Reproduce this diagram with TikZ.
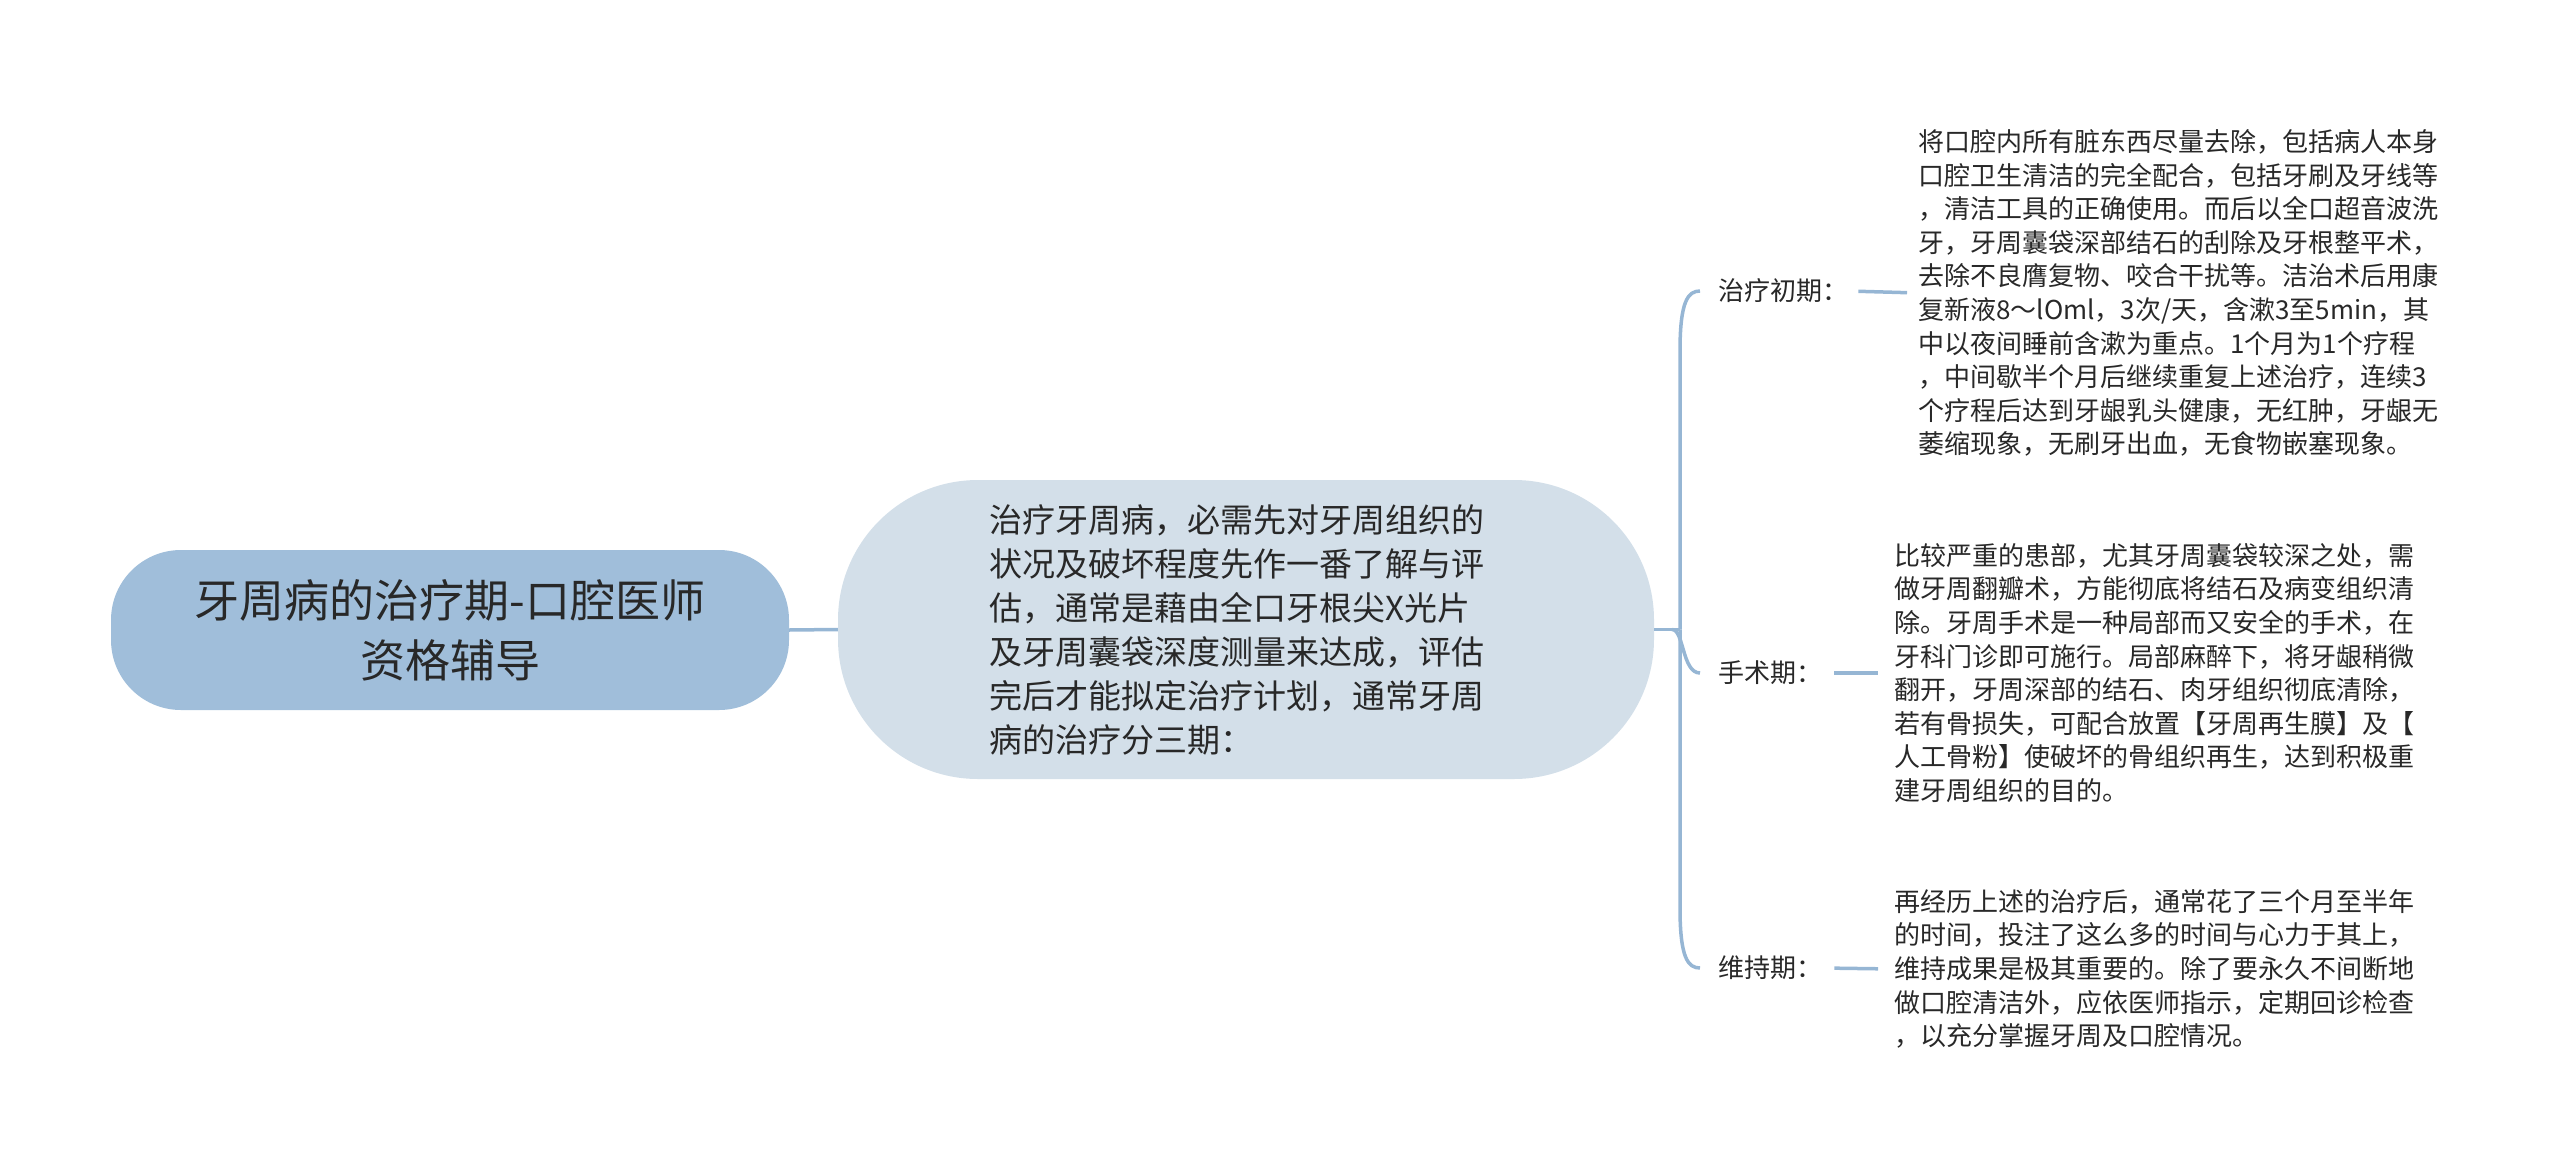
\documentclass[tikz,border=0pt]{standalone}
\usepackage{fontspec}
\setmainfont{Noto Sans CJK SC}
\usetikzlibrary{calc}
\definecolor{rootfill}{RGB}{160,190,218}
\definecolor{midfill}{RGB}{211,223,233}
\definecolor{linecol}{RGB}{150,182,212}
\definecolor{txt}{RGB}{40,40,40}
\begin{document}
\begin{tikzpicture}[x=1pt,y=-1pt,
  conn/.style={draw=linecol,line width=3.5pt},
  rootbox/.style={fill=rootfill,rounded corners=70pt,minimum width=678pt,minimum height=160pt,inner sep=0pt,align=center,font=\fontsize{45}{60}\selectfont,text=txt},
  midbox/.style={fill=midfill,rounded corners=140pt,minimum width=816pt,minimum height=299pt,inner sep=0pt},
  midtext/.style={inner sep=0pt,anchor=west,align=left,font=\fontsize{33}{44}\selectfont,text=txt},
  lab/.style={inner sep=0pt,anchor=west,font=\fontsize{26}{34}\selectfont,text=txt},
  leaf/.style={inner sep=0pt,anchor=west,align=left,font=\fontsize{26}{33.6}\selectfont,text=txt}]
\useasboundingbox (0,0) rectangle (2560,1175);
\node[rootbox] (root) at (450,630) {牙周病的治疗期-口腔医师\\资格辅导};
\node[midbox] (mid) at (1246,629.5) {};
\node[midtext] (midt) at (989,629.5) {治疗牙周病，必需先对牙周组织的\\状况及破坏程度先作一番了解与评\\估，通常是藉由全口牙根尖X光片\\及牙周囊袋深度测量来达成，评估\\完后才能拟定治疗计划，通常牙周\\病的治疗分三期：};
\node[lab] (lab1) at (1718,291) {治疗初期：};
\node[lab] (lab2) at (1718,673) {手术期：};
\node[lab] (lab3) at (1718,968) {维持期：};
\node[leaf] (leaf1) at (1918,293) {将口腔内所有脏东西尽量去除，包括病人本身\\口腔卫生清洁的完全配合，包括牙刷及牙线等\\，清洁工具的正确使用。而后以全口超音波洗\\牙，牙周囊袋深部结石的刮除及牙根整平术，\\去除不良膺复物、咬合干扰等。洁治术后用康\\复新液8～lOml，3次/天，含漱3至5min，其\\中以夜间睡前含漱为重点。1个月为1个疗程\\，中间歇半个月后继续重复上述治疗，连续3\\个疗程后达到牙龈乳头健康，无红肿，牙龈无\\萎缩现象，无刷牙出血，无食物嵌塞现象。};
\node[leaf] (leaf2) at (1894,673) {比较严重的患部，尤其牙周囊袋较深之处，需\\做牙周翻瓣术，方能彻底将结石及病变组织清\\除。牙周手术是一种局部而又安全的手术，在\\牙科门诊即可施行。局部麻醉下，将牙龈稍微\\翻开，牙周深部的结石、肉牙组织彻底清除，\\若有骨损失，可配合放置【牙周再生膜】及【\\人工骨粉】使破坏的骨组织再生，达到积极重\\建牙周组织的目的。};
\node[leaf] (leaf3) at (1894,969) {再经历上述的治疗后，通常花了三个月至半年\\的时间，投注了这么多的时间与心力于其上，\\维持成果是极其重要的。除了要永久不间断地\\做口腔清洁外，应依医师指示，定期回诊检查\\，以充分掌握牙周及口腔情况。};
\coordinate (P) at (1680,629.5);
\coordinate (E1) at ($(lab1.west)+(-18,0)$);
\coordinate (E2) at ($(lab2.west)+(-18,0)$);
\coordinate (E3) at ($(lab3.west)+(-18,0)$);
\draw[conn] (root.east) -- (mid.west);
\draw[conn] (mid.east) -- (P);
\draw[conn] (P) -- ($(E1)+(-20,60)$) .. controls ($(E1)+(-20,10)$) and ($(E1)+(-12,0)$) .. (E1);
\draw[conn] ($(P)+(-8,0)$) .. controls ($(P)+(4,0)$) and ($(E2)+(-18,0)$) .. (E2);
\draw[conn] (P) -- ($(E3)+(-20,-60)$) .. controls ($(E3)+(-20,-10)$) and ($(E3)+(-12,0)$) .. (E3);
\draw[conn,shorten <=10pt,shorten >=11pt] (lab1.east) -- (leaf1.west);
\draw[conn,shorten <=12pt,shorten >=16pt] (lab2.east) -- (leaf2.west);
\draw[conn,shorten <=12pt,shorten >=16pt] (lab3.east) -- (leaf3.west);
\end{tikzpicture}
\end{document}
